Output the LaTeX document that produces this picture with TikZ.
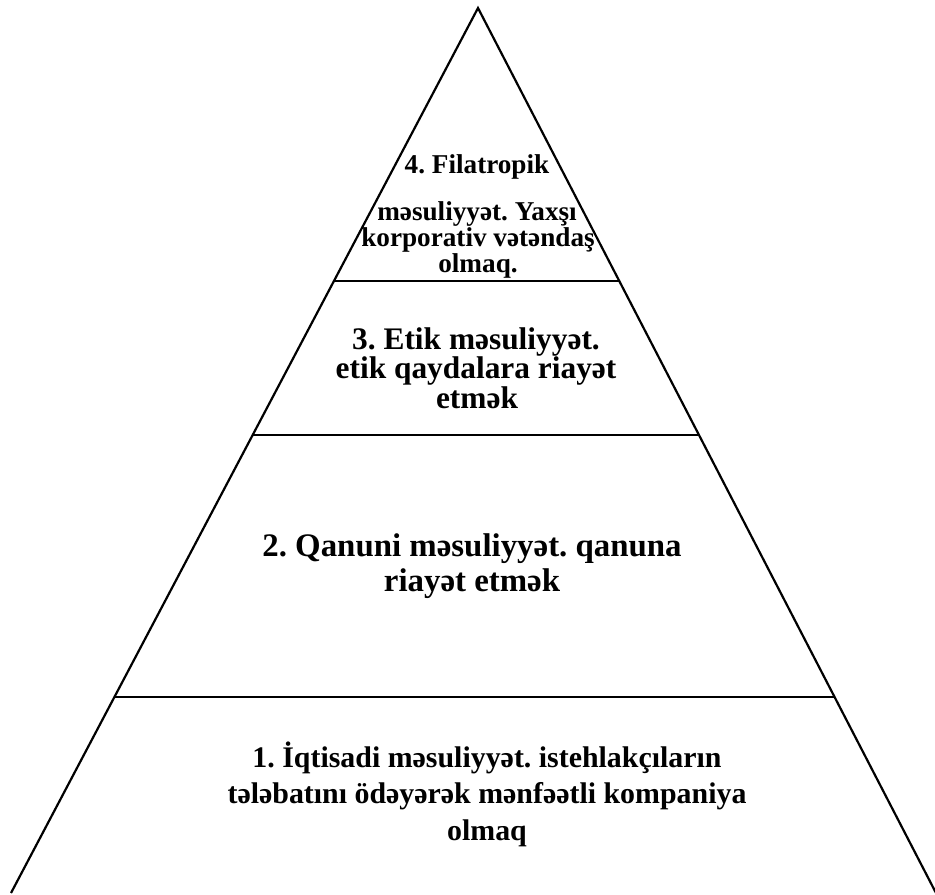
\documentclass[tikz,border=0pt]{standalone}
\usepackage{fontspec}
\setmainfont{Liberation Serif}
\usetikzlibrary{calc}
\frenchspacing
\tikzset{
  edge-l/.style={line width=2.2pt,black},
  level-l/.style={line width=2pt,black},
  ln/.style={anchor=base,inner sep=0pt,font=\bfseries},
  sz-one/.style={font=\fontsize{30}{36}\selectfont\bfseries},
  sz-two/.style={font=\fontsize{33}{36}\selectfont\bfseries},
  sz-three/.style={font=\fontsize{31.5}{30}\selectfont\bfseries},
  sz-four/.style={font=\fontsize{27.3}{26}\selectfont\bfseries},
}

\begin{document}
\begin{tikzpicture}[x=1bp,y=-1bp]

  \useasboundingbox (0,0) rectangle (935,895);

  \coordinate (apex) at (478,8);
  \coordinate (bl)   at (11,893);
  \coordinate (br)   at (936,893);

  % levels, as fraction of the height
  \coordinate (l4a) at ($(apex)!0.3085!(bl)$);
  \coordinate (l4b) at ($(apex)!0.3085!(br)$);
  \coordinate (l3a) at ($(apex)!0.4825!(bl)$);
  \coordinate (l3b) at ($(apex)!0.4825!(br)$);
  \coordinate (l2a) at ($(apex)!0.7785!(bl)$);
  \coordinate (l2b) at ($(apex)!0.7785!(br)$);

  \draw[edge-l] (bl) -- (apex) -- (br);
  \draw[level-l] (l4a) -- (l4b);
  \draw[level-l] (l3a) -- (l3b);
  \draw[level-l] (l2a) -- (l2b);

  % level 4
  \node[ln,sz-four] (t4a) at (477,173) {4. Filatropik};
  \node[ln,sz-four] (t4b) at (477,220) {məsuliyyət. Yaxşı};
  \node[ln,sz-four] (t4c) at (478,246) {korporativ vətəndaş};
  \node[ln,sz-four] (t4d) at (478,272) {olmaq.};

  % level 3
  \node[ln,sz-three] (t3a) at (476,349) {3. Etik məsuliyyət.};
  \node[ln,sz-three] (t3b) at (476,378) {etik qaydalara riayət};
  \node[ln,sz-three] (t3c) at (477,408) {etmək};

  % level 2
  \node[ln,sz-two] (t2a) at (472,556) {2. Qanuni məsuliyyət. qanuna};
  \node[ln,sz-two] (t2b) at (472,591) {riayət etmək};

  % level 1
  \node[ln,sz-one] (t1a) at (487,767) {1. İqtisadi məsuliyyət. istehlakçıların};
  \node[ln,sz-one] (t1b) at (487,803) {tələbatını ödəyərək mənfəətli kompaniya};
  \node[ln,sz-one] (t1c) at (487,840) {olmaq};

\end{tikzpicture}
\end{document}
